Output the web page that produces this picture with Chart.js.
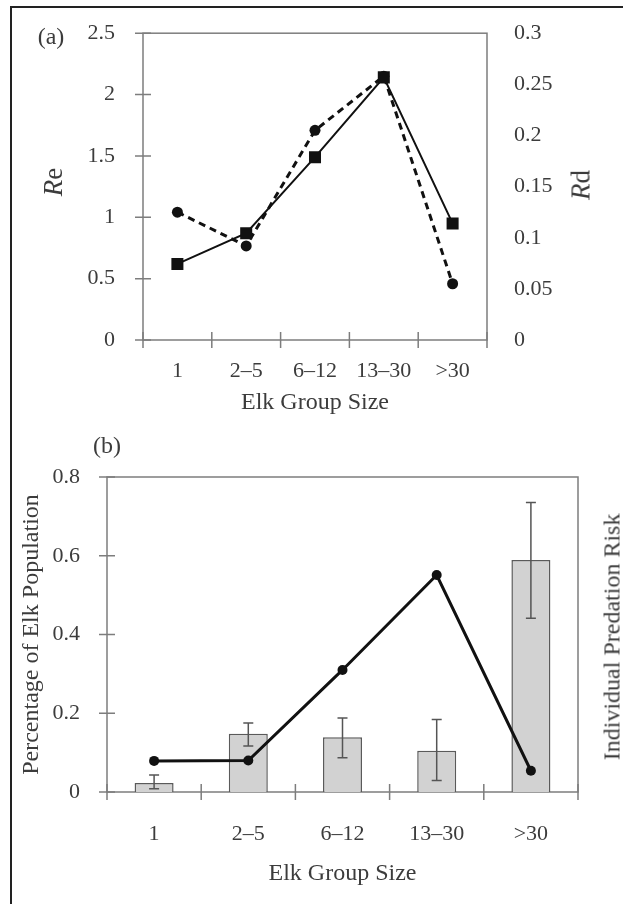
<!DOCTYPE html>
<html lang="en">
<head>
<meta charset="UTF-8">
<title>Elk Group Size</title>
<style>
  body { margin: 0; background: #fff; }
  #page { position: relative; width: 623px; height: 904px; overflow: hidden; font-family: 'Liberation Serif', serif; color: #3c3c3c; }
  #frame { position: absolute; left: 10px; top: 6px; width: 640px; height: 920px; border-left: 2px solid #222; border-top: 2px solid #222; }
  canvas { position: absolute; left: 0; }
  .lbl { position: absolute; font-size: 24px; white-space: nowrap; transform: translate(-50%, -50%); }
  .rot { transform: translate(-50%, -50%) rotate(-90deg); }
</style>
</head>
<body>
<div id="page">
  <div id="frame"></div>
  <canvas id="chartA" width="623" height="430" style="top:0"></canvas>
  <canvas id="chartB" width="623" height="474" style="top:430px"></canvas>
  <div class="lbl" style="left:51px;top:36px">(a)</div>
  <div class="lbl" style="left:107px;top:445px">(b)</div>
  <div class="lbl rot" style="left:53px;top:182px;font-size:27px"><i>R</i>e</div>
  <div class="lbl rot" style="left:581px;top:185px;font-size:27px"><i>R</i>d</div>
  <div class="lbl rot" style="left:612px;top:637px">Individual Predation Risk</div>
</div>

<script src="https://cdn.jsdelivr.net/npm/chart.js"></script>
<script>
// categories
const groups = ['1', '2–5', '6–12', '13–30', '>30'];

// panel (a)
const reValues = [0.62, 0.87, 1.49, 2.14, 0.95];
const rdValues = [0.125, 0.092, 0.205, 0.258, 0.055];
const reTicks = [0, 0.5, 1, 1.5, 2, 2.5];
const rdTicks = [0, 0.05, 0.1, 0.15, 0.2, 0.25, 0.3];

// panel (b)
const popShare = [0.023, 0.148, 0.139, 0.105, 0.589];
const popErrLow = [0.008, 0.117, 0.087, 0.029, 0.441];
const popErrHigh = [0.043, 0.175, 0.188, 0.184, 0.735];
const predRisk = [0.079, 0.080, 0.31, 0.551, 0.054];
const popTicks = [0, 0.2, 0.4, 0.6, 0.8];

const axisGrey = '#7d7d7d';
const textGrey = '#3c3c3c';
const tickFont = { family: 'Liberation Serif', size: 22 };
const titleFont = { family: 'Liberation Serif', size: 24 };

Chart.defaults.color = textGrey;

const setTicks = list => scale => { scale.ticks = list.map(v => ({ value: v })); };

// box round the plot and ticks that cross the axes
const boxAndTicks = {
  id: 'boxAndTicks',
  beforeDatasetsDraw(chart) {
    const { ctx, chartArea: a, scales } = chart;
    const len = 8;
    ctx.save();
    ctx.strokeStyle = axisGrey;
    ctx.lineWidth = 1.5;
    ctx.strokeRect(a.left, a.top, a.right - a.left, a.bottom - a.top);
    ctx.beginPath();
    const x = scales.x;
    for (let i = 0; i <= x.ticks.length; i++) {
      const px = x.getPixelForValue(i - 0.5);
      ctx.moveTo(px, a.bottom - len);
      ctx.lineTo(px, a.bottom + len);
    }
    const y = scales.y;
    y.ticks.forEach(t => {
      const py = y.getPixelForValue(t.value);
      ctx.moveTo(a.left - len, py);
      ctx.lineTo(a.left + len, py);
    });
    ctx.stroke();
    ctx.restore();
  }
};

// error bars on the bar dataset
const errorBars = {
  id: 'errorBars',
  afterDatasetDraw(chart, args) {
    if (args.meta.type !== 'bar') return;
    const { ctx } = chart;
    const y = chart.scales[args.meta.yAxisID];
    ctx.save();
    ctx.strokeStyle = '#555';
    ctx.lineWidth = 1.5;
    ctx.beginPath();
    args.meta.data.forEach((bar, i) => {
      const hi = y.getPixelForValue(popErrHigh[i]);
      const lo = y.getPixelForValue(popErrLow[i]);
      ctx.moveTo(bar.x, hi); ctx.lineTo(bar.x, lo);
      ctx.moveTo(bar.x - 5, hi); ctx.lineTo(bar.x + 5, hi);
      ctx.moveTo(bar.x - 5, lo); ctx.lineTo(bar.x + 5, lo);
    });
    ctx.stroke();
    ctx.restore();
  }
};

const numLabel = v => String(+Number(v).toFixed(2));

// Panel (a)
new Chart(document.getElementById('chartA'), {
  type: 'line',
  data: {
    labels: groups,
    datasets: [
      {
        label: 'Re', data: reValues, yAxisID: 'y',
        borderColor: '#111', borderWidth: 2,
        pointStyle: 'rect', pointRadius: 8.5, pointBackgroundColor: '#111', pointBorderWidth: 0
      },
      {
        label: 'Rd', data: rdValues, yAxisID: 'y1',
        borderColor: '#111', borderWidth: 3, borderDash: [7, 5],
        pointStyle: 'circle', pointRadius: 5.5, pointBackgroundColor: '#111', pointBorderWidth: 0
      }
    ]
  },
  options: {
    responsive: false,
    animation: false,
    layout: { padding: { top: 30, left: 0, right: 0, bottom: 0 } },
    plugins: { legend: { display: false }, tooltip: { enabled: false } },
    scales: {
      x: {
        offset: true,
        grid: { display: false },
        border: { display: false },
        ticks: { font: tickFont, padding: 10, maxRotation: 0 },
        title: { display: true, text: 'Elk Group Size', font: titleFont, padding: { top: 0, bottom: 13 } },
        afterFit: s => { s.height = 90; }
      },
      y: {
        position: 'left', min: 0, max: 2.5,
        afterBuildTicks: setTicks(reTicks),
        grid: { display: false },
        border: { display: false },
        ticks: { font: tickFont, padding: 20, callback: numLabel },
        afterFit: s => { s.width = 143; }
      },
      y1: {
        position: 'right', min: 0, max: 0.3,
        afterBuildTicks: setTicks(rdTicks),
        grid: { display: false },
        border: { display: false },
        ticks: { font: tickFont, padding: 19, callback: numLabel },
        afterFit: s => { s.width = 136; }
      }
    }
  },
  plugins: [boxAndTicks]
});

// Panel (b)
new Chart(document.getElementById('chartB'), {
  data: {
    labels: groups,
    datasets: [
      {
        type: 'line', label: 'Individual Predation Risk', data: predRisk, yAxisID: 'y1', order: 0,
        borderColor: '#111', borderWidth: 3,
        pointStyle: 'circle', pointRadius: 5, pointBackgroundColor: '#111', pointBorderWidth: 0
      },
      {
        type: 'bar', label: 'Percentage of Elk Population', data: popShare, yAxisID: 'y', order: 1,
        backgroundColor: '#d2d2d2', borderColor: '#5a5a5a', borderWidth: 1.5,
        barPercentage: 0.414, categoryPercentage: 1
      }
    ]
  },
  options: {
    responsive: false,
    animation: false,
    layout: { padding: { top: 47, left: 0, right: 0, bottom: 0 } },
    plugins: { legend: { display: false }, tooltip: { enabled: false } },
    scales: {
      x: {
        offset: true,
        grid: { display: false },
        border: { display: false },
        ticks: { font: tickFont, padding: 21, maxRotation: 0 },
        title: { display: true, text: 'Elk Group Size', font: titleFont, padding: { top: 0, bottom: 16 } },
        afterFit: s => { s.height = 112; }
      },
      y: {
        position: 'left', min: 0, max: 0.8,
        afterBuildTicks: setTicks(popTicks),
        grid: { display: false },
        border: { display: false },
        ticks: { font: tickFont, padding: 19, callback: numLabel },
        title: { display: true, text: 'Percentage of Elk Population', font: titleFont, padding: { top: 17, bottom: 0 } },
        afterFit: s => { s.width = 107; }
      },
      y1: {
        position: 'right', min: 0, max: 0.8,
        grid: { display: false },
        border: { display: false },
        ticks: { display: false },
        afterFit: s => { s.width = 45; }
      }
    }
  },
  plugins: [boxAndTicks, errorBars]
});
</script>
</body>
</html>
